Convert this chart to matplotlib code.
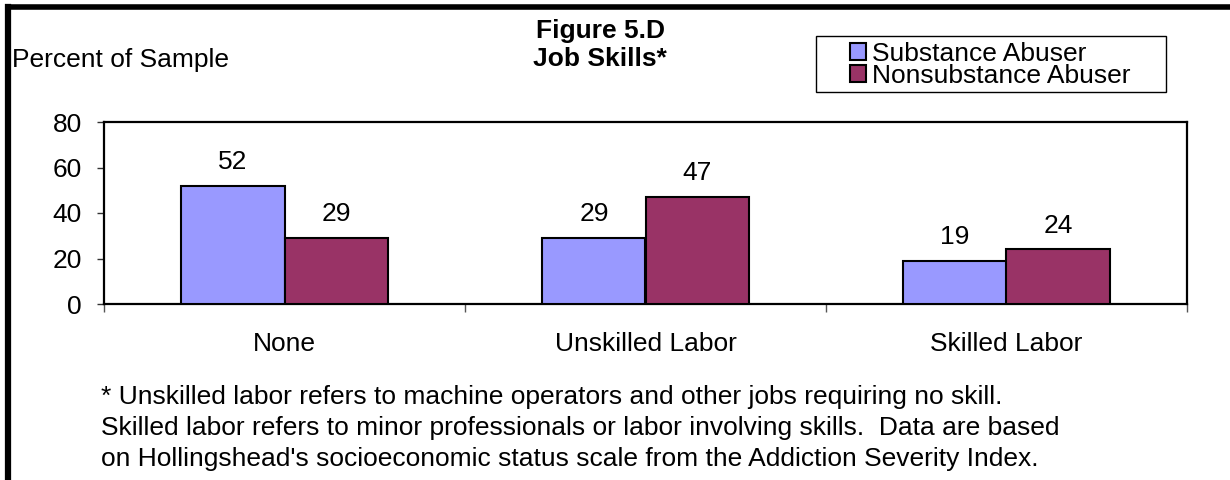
import matplotlib
matplotlib.use("Agg")
import matplotlib.pyplot as plt
from matplotlib.lines import Line2D
from matplotlib.patches import Rectangle
import numpy as np

categories = ["None", "Unskilled Labor", "Skilled Labor"]
substance = [52, 29, 19]
nonsubstance = [29, 47, 24]
series_names = ["Substance Abuser", "Nonsubstance Abuser"]
yticks = [0, 20, 40, 60, 80]

plt.rcParams['font.family'] = ['Liberation Sans', 'DejaVu Sans']
FS = 19

fig = plt.figure(figsize=(12.3, 4.8), dpi=100)
W, H = 1230, 480
ax = fig.add_axes([104 / W, 1 - 304 / H, (1187 - 104) / W, (304 - 122) / H])

x = np.arange(len(categories))
bw = 0.286
b1 = ax.bar(x - bw / 2, substance, bw, color="#9999FF", edgecolor="black", linewidth=1.5,
            label=series_names[0], zorder=3)
b2 = ax.bar(x + bw / 2, nonsubstance, bw, color="#993366", edgecolor="black", linewidth=1.5,
            label=series_names[1], zorder=3)

for bars, vals in ((b1, substance), (b2, nonsubstance)):
    for r, v in zip(bars, vals):
        ax.annotate(str(v), (r.get_x() + r.get_width() / 2, v), xytext=(0, 8.5),
                    textcoords="offset points", ha="center", va="bottom", fontsize=FS)

ax.set_xlim(-0.5, 2.5)
ax.set_ylim(0, 80)
ax.set_yticks(yticks)
ax.tick_params(axis="y", direction="out", length=5, width=1, labelsize=FS, pad=11, color="#333333")
ax.set_xticks(x)
ax.set_xticklabels(categories)
ax.tick_params(axis="x", which="major", length=0, labelsize=FS, pad=20)
ax.set_xticks(np.arange(-0.5, 3.0, 1.0), minor=True)
ax.tick_params(axis="x", which="minor", direction="out", length=6, width=1, color="#555555")
for s in ax.spines.values():
    s.set_linewidth(1.6)
    s.set_color("black")

# Title
fig.text(600 / W, 1 - 45 / H, "Figure 5.D\nJob Skills*", ha="center", va="center",
         fontsize=FS, fontweight="bold", linespacing=1.2)
# y axis label
fig.text(12 / W, 1 - 60 / H, "Percent of Sample", ha="left", va="center", fontsize=FS)

# Legend frame
fig.add_artist(Rectangle((816 / W, 1 - 92 / H), (1166 - 816) / W, (92 - 36) / H,
                         transform=fig.transFigure, facecolor="white", edgecolor="black",
                         linewidth=1.0, zorder=1))
leg = fig.legend(handles=[b1, b2], labels=series_names, loc="upper left",
                 bbox_to_anchor=(850 / W, 1 - 42 / H), fontsize=FS, frameon=False,
                 labelspacing=-0.08, handlelength=0.62,
                 handleheight=0.62, handletextpad=0.2, borderpad=0.0, borderaxespad=0)
leg.set_zorder(2)

# Footnote
foot = ("* Unskilled labor refers to machine operators and other jobs requiring no skill.\n"
        "Skilled labor refers to minor professionals or labor involving skills.  Data are based\n"
        "on Hollingshead's socioeconomic status scale from the Addiction Severity Index.")
fig.text(101 / W, 1 - 385 / H, foot, ha="left", va="top", fontsize=FS, linespacing=1.38)

# Outer border (extends beyond image at right and bottom)
fig.add_artist(Line2D([8 / W, 8 / W], [0, 1 - 6.5 / H], transform=fig.transFigure,
                      color="black", linewidth=4.5, solid_capstyle="projecting"))
fig.add_artist(Line2D([8 / W, 1], [1 - 6.5 / H, 1 - 6.5 / H], transform=fig.transFigure,
                      color="black", linewidth=4.0, solid_capstyle="projecting"))

fig.savefig("out.png", dpi=100)
